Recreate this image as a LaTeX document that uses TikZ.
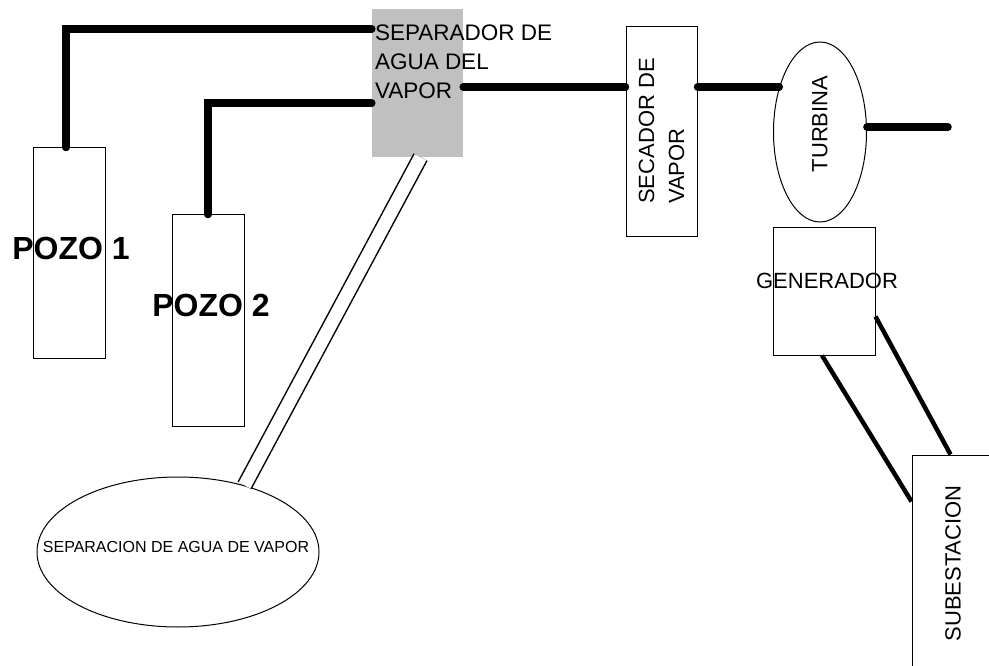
\documentclass[tikz,border=0pt]{standalone}
\usepackage{fontspec}
\setmainfont{Liberation Sans}
\usetikzlibrary{shapes.geometric,calc}
\definecolor{sepgris}{HTML}{C0C0C0}

\begin{document}
\begin{tikzpicture}[
  x=1pt, y=-1pt,
  caja/.style={draw, line width=1pt, inner sep=0pt},
  elip/.style={draw, ellipse, line width=1pt, inner sep=0pt},
  rotulo/.style={inner sep=0pt, font=\fontsize{22}{30}\selectfont, align=left},
  pozotxt/.style={inner sep=0pt, font=\bfseries\fontsize{32}{36}\selectfont},
  tubo/.style={line width=7.5pt, line cap=round},
  cable/.style={line width=4.5pt},
  tubodoble/.style={double, double distance=13pt, line width=1.5pt},
]
  \useasboundingbox (0,0) rectangle (989,666);

  % Pozos
  \node[caja, minimum width=72pt, minimum height=210pt,
        label={[pozotxt, xshift=2pt, yshift=5pt]center:POZO 1}] (pozo1) at (69,253) {};
  \node[caja, minimum width=72pt, minimum height=211pt,
        label={[pozotxt, xshift=3pt, yshift=15pt]center:POZO 2}] (pozo2) at (208,320.5) {};

  % Separador
  \node[fill=sepgris, inner sep=0pt, minimum width=91pt, minimum height=148pt,
        label={[rotulo, font=\fontsize{22.5}{29}\selectfont, anchor=north west, xshift=3pt, yshift=-16pt]north west:{SEPARADOR DE\\AGUA DEL\\VAPOR}}] (sep) at (417.5,83) {};
  \node[elip, minimum width=282pt, minimum height=150pt,
        label={[inner sep=0pt, font=\fontsize{16}{18}\selectfont, xshift=-2pt, yshift=5pt]center:SEPARACION DE AGUA DE VAPOR}] (sepagua) at (178,552) {};

  % Secador, turbina, generador
  \node[caja, minimum width=71pt, minimum height=210pt,
        label={[rotulo, rotate=90, xshift=1pt]center:{SECADOR DE\\VAPOR}}] (sec) at (661.5,132) {};
  \node[elip, minimum width=93pt, minimum height=180pt,
        label={[rotulo, rotate=90, xshift=8pt]center:TURBINA}] (turb) at (820,132) {};
  \node[caja, minimum width=102pt, minimum height=127pt,
        label={[rotulo, xshift=3pt, yshift=11pt]center:GENERADOR}] (gen) at (824,291.5) {};
  \node[caja, minimum width=88pt, minimum height=225pt,
        label={[rotulo, rotate=90, xshift=4pt, yshift=3pt]center:SUBESTACION}] (sub) at (956,567.5) {};
  \coordinate (salida) at (948,127);

  % Tuberias
  \draw[tubo] ([xshift=-3pt]pozo1.north) |- ([yshift=-20pt]sep.north west);
  \draw[tubo] (pozo2.north) |- ([yshift=54pt]sep.south west);
  \draw[tubo] (sep.east |- turb.132) -- (sec.west |- turb.132);
  \draw[tubo] (sec.east |- turb.132) -- (turb.132);
  \draw[tubo] (turb.6) -- (turb.6 -| salida);
  \draw[tubodoble] ([xshift=3pt]sep.south) -- (sepagua.45);

  % Lineas al subestacion
  \draw[cable] ([xshift=-2pt]gen.south) -- ([yshift=-47pt]sub.north west);
  \draw[cable] ([yshift=-25pt]gen.east) -- ([xshift=39pt]sub.north west);
\end{tikzpicture}
\end{document}
